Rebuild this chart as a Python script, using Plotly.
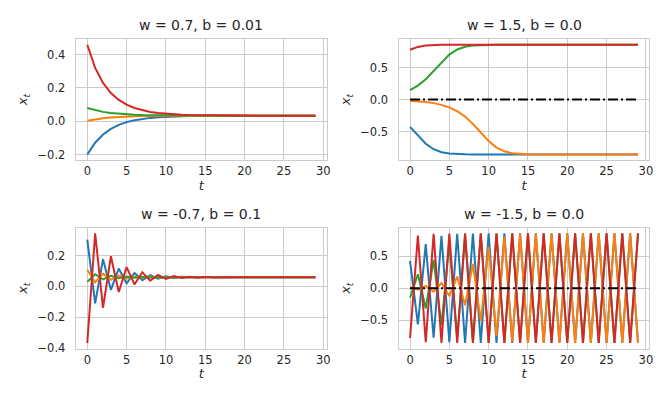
import plotly.graph_objects as go

# time steps
t = list(range(30))

# w = 0.7, b = 0.01
a_blue = [-0.2001, -0.1293, -0.0803, -0.0462, -0.0223, -0.0056, 0.0061, 0.0142, 0.0200, 0.0240,
          0.0268, 0.0287, 0.0301, 0.0311, 0.0318, 0.0322, 0.0325, 0.0328, 0.0329, 0.0330,
          0.0331, 0.0332, 0.0332, 0.0333, 0.0333, 0.0333, 0.0333, 0.0333, 0.0333, 0.0333]
a_orange = [0.0024, 0.0117, 0.0182, 0.0227, 0.0259, 0.0281, 0.0297, 0.0308, 0.0316, 0.0321,
            0.0325, 0.0327, 0.0329, 0.0330, 0.0331, 0.0332, 0.0332, 0.0333, 0.0333, 0.0333,
            0.0333, 0.0333, 0.0333, 0.0333, 0.0333, 0.0333, 0.0333, 0.0333, 0.0333, 0.0333]
a_green = [0.0800, 0.0659, 0.0561, 0.0492, 0.0444, 0.0411, 0.0387, 0.0371, 0.0359, 0.0352,
           0.0346, 0.0342, 0.0339, 0.0337, 0.0336, 0.0335, 0.0335, 0.0334, 0.0334, 0.0334,
           0.0333, 0.0333, 0.0333, 0.0333, 0.0333, 0.0333, 0.0333, 0.0333, 0.0333, 0.0333]
a_red = [0.4600, 0.3203, 0.2300, 0.1694, 0.1279, 0.0992, 0.0792, 0.0654, 0.0557, 0.0490,
         0.0442, 0.0409, 0.0386, 0.0370, 0.0359, 0.0351, 0.0346, 0.0342, 0.0339, 0.0337,
         0.0336, 0.0335, 0.0335, 0.0334, 0.0334, 0.0334, 0.0333, 0.0333, 0.0333, 0.0333]

# w = 1.5, b = 0.0
b_blue = [-0.4270, -0.5652, -0.6899, -0.7758, -0.8222, -0.8437, -0.8527, -0.8562, -0.8576, -0.8582,
          -0.8584, -0.8585, -0.8585, -0.8585, -0.8585, -0.8585, -0.8585, -0.8585, -0.8585, -0.8585,
          -0.8585, -0.8585, -0.8585, -0.8585, -0.8585, -0.8585, -0.8585, -0.8585, -0.8585, -0.8585]
b_orange = [-0.0163, -0.0245, -0.0367, -0.0549, -0.0822, -0.1227, -0.1820, -0.2664, -0.3796, -0.5149,
            -0.6483, -0.7498, -0.8092, -0.8378, -0.8501, -0.8552, -0.8572, -0.8580, -0.8583, -0.8584,
            -0.8585, -0.8585, -0.8585, -0.8585, -0.8585, -0.8585, -0.8585, -0.8585, -0.8585, -0.8585]
b_green = [0.1489, 0.2198, 0.3183, 0.4443, 0.5826, 0.7034, 0.7838, 0.8261, 0.8452, 0.8532,
           0.8564, 0.8577, 0.8582, 0.8584, 0.8585, 0.8585, 0.8585, 0.8585, 0.8585, 0.8585,
           0.8585, 0.8585, 0.8585, 0.8585, 0.8585, 0.8585, 0.8585, 0.8585, 0.8585, 0.8585]
b_red = [0.7800, 0.8243, 0.8445, 0.8529, 0.8563, 0.8576, 0.8581, 0.8583, 0.8584, 0.8585,
         0.8585, 0.8585, 0.8585, 0.8585, 0.8585, 0.8585, 0.8585, 0.8585, 0.8585, 0.8585,
         0.8585, 0.8585, 0.8585, 0.8585, 0.8585, 0.8585, 0.8585, 0.8585, 0.8585, 0.8585]
b_black = [0.0] * 30

# w = -0.7, b = 0.1
c_blue = [0.3030, -0.1116, 0.1762, -0.0233, 0.1158, 0.0189, 0.0866, 0.0394, 0.0723, 0.0494,
          0.0653, 0.0542, 0.0620, 0.0565, 0.0604, 0.0577, 0.0596, 0.0583, 0.0592, 0.0586,
          0.0590, 0.0587, 0.0588, 0.0588, 0.0588, 0.0588, 0.0588, 0.0588, 0.0588, 0.0588]
c_orange = [0.1072, 0.0250, 0.0823, 0.0424, 0.0702, 0.0509, 0.0643, 0.0549, 0.0615, 0.0569,
            0.0601, 0.0579, 0.0595, 0.0584, 0.0591, 0.0586, 0.0590, 0.0587, 0.0588, 0.0588,
            0.0588, 0.0588, 0.0588, 0.0588, 0.0588, 0.0588, 0.0588, 0.0588, 0.0588, 0.0588]
c_green = [0.0300, 0.0788, 0.0448, 0.0685, 0.0520, 0.0635, 0.0555, 0.0611, 0.0572, 0.0599,
           0.0580, 0.0594, 0.0584, 0.0591, 0.0586, 0.0590, 0.0587, 0.0588, 0.0588, 0.0588,
           0.0588, 0.0588, 0.0588, 0.0588, 0.0588, 0.0588, 0.0588, 0.0588, 0.0588, 0.0588]
c_red = [-0.3690, 0.3438, -0.1398, 0.1953, -0.0367, 0.1250, 0.0125, 0.0910, 0.0363, 0.0745,
         0.0478, 0.0664, 0.0535, 0.0625, 0.0562, 0.0606, 0.0575, 0.0597, 0.0581, 0.0593,
         0.0585, 0.0590, 0.0587, 0.0589, 0.0588, 0.0588, 0.0588, 0.0588, 0.0588, 0.0588]

# w = -1.5, b = 0.0
d_blue = [0.4270, -0.5652, 0.6899, -0.7758, 0.8222, -0.8437, 0.8527, -0.8562, 0.8576, -0.8582,
          0.8584, -0.8585, 0.8585, -0.8585, 0.8585, -0.8585, 0.8585, -0.8585, 0.8585, -0.8585,
          0.8585, -0.8585, 0.8585, -0.8585, 0.8585, -0.8585, 0.8585, -0.8585, 0.8585, -0.8585]
d_orange = [0.0163, -0.0245, 0.0367, -0.0549, 0.0822, -0.1227, 0.1820, -0.2664, 0.3796, -0.5149,
            0.6483, -0.7498, 0.8092, -0.8378, 0.8501, -0.8552, 0.8572, -0.8580, 0.8583, -0.8584,
            0.8585, -0.8585, 0.8585, -0.8585, 0.8585, -0.8585, 0.8585, -0.8585, 0.8585, -0.8585]
d_green = [-0.1489, 0.2198, -0.3183, 0.4443, -0.5826, 0.7034, -0.7838, 0.8261, -0.8452, 0.8532,
           -0.8564, 0.8577, -0.8582, 0.8584, -0.8585, 0.8585, -0.8585, 0.8585, -0.8585, 0.8585,
           -0.8585, 0.8585, -0.8585, 0.8585, -0.8585, 0.8585, -0.8585, 0.8585, -0.8585, 0.8585]
d_red = [-0.7800, 0.8243, -0.8445, 0.8529, -0.8563, 0.8576, -0.8581, 0.8583, -0.8584, 0.8585,
         -0.8585, 0.8585, -0.8585, 0.8585, -0.8585, 0.8585, -0.8585, 0.8585, -0.8585, 0.8585,
         -0.8585, 0.8585, -0.8585, 0.8585, -0.8585, 0.8585, -0.8585, 0.8585, -0.8585, 0.8585]
d_black = [0.0] * 30

titles = ['w = 0.7, b = 0.01', 'w = 1.5, b = 0.0', 'w = -0.7, b = 0.1', 'w = -1.5, b = 0.0']
yticks = [[-0.2, 0.0, 0.2, 0.4], [-0.5, 0.0, 0.5], [-0.4, -0.2, 0.0, 0.2], [-0.5, 0.0, 0.5]]
xticks = [0, 5, 10, 15, 20, 25, 30]

colors = ['#1f77b4', '#ff7f0e', '#2ca02c', '#d62728']
panels = [
    [a_blue, a_orange, a_green, a_red],
    [b_blue, b_orange, b_green, b_red, b_black],
    [c_blue, c_orange, c_green, c_red],
    [d_blue, d_orange, d_green, d_red, d_black],
]

W, H = 664, 399
xdom = [[68.3 / W, 320.7 / W], [393 / W, 645.3 / W]]
ydom = [[1 - 154.3 / H, 1 - 31.7 / H], [1 - 345.7 / H, 1 - 223.3 / H]]

fig = go.Figure()
txt = '#262626'
grid = '#cccccc'
label_font = dict(size=13, color=txt, style='italic')

for i, series in enumerate(panels):
    n = '' if i == 0 else str(i + 1)
    for j, ys in enumerate(series):
        if j < 4:
            line = dict(color=colors[j], width=2)
        else:
            line = dict(color='black', width=2, dash='10px,3px,2px,3px')
        fig.add_trace(go.Scatter(x=t, y=ys, mode='lines', line=line,
                                 xaxis='x' + n, yaxis='y' + n, showlegend=False))

    allv = [v for s in series for v in s]
    lo, hi = min(allv), max(allv)
    pad = 0.05 * (hi - lo)
    xd = xdom[i % 2]
    yd = ydom[i // 2]
    common = dict(showgrid=True, gridcolor=grid, gridwidth=1.3, zeroline=False,
                  showline=True, mirror=True, linecolor=grid, linewidth=1.4,
                  tickfont=dict(size=11.5, color=txt))
    fig.update_layout({
        'xaxis' + n: dict(domain=xd, anchor='y' + n, range=[-1.45, 30.45],
                          tickvals=xticks, ticks='',
                          title=dict(text='t', font=label_font, standoff=3), **common),
        'yaxis' + n: dict(domain=yd, anchor='x' + n, range=[lo - pad, hi + pad],
                          tickvals=yticks[i], tickformat='.1f',
                          ticks='outside', ticklen=7, tickcolor='rgba(0,0,0,0)',
                          title=dict(text='x<sub>t</sub>', font=label_font, standoff=6), **common),
    })

    cx = (xd[0] + xd[1]) / 2
    fig.add_annotation(text=titles[i], x=cx, y=yd[1], xref='paper', yref='paper',
                       xanchor='center', yanchor='bottom', yshift=4, showarrow=False,
                       font=dict(size=14, color=txt))

fig.update_layout(
    width=W, height=H,
    margin=dict(l=0, r=0, t=0, b=0),
    paper_bgcolor='white', plot_bgcolor='white',
    font=dict(family='DejaVu Sans', color=txt),
)

fig.write_html('out.html')
